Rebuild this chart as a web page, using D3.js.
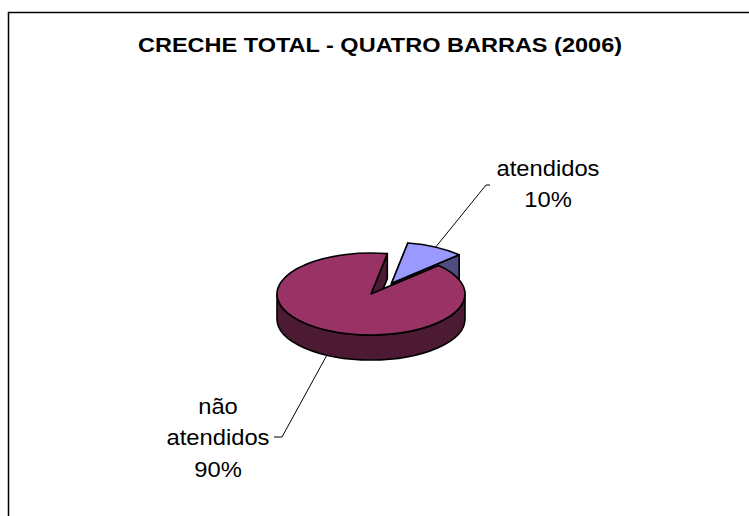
<!DOCTYPE html>
<html>
<head>
<meta charset="utf-8">
<script src="https://cdn.jsdelivr.net/npm/d3@7"></script>
<style>
  body { margin: 0; background: #fff; }
  svg text { font-family: "Liberation Sans", Arial, sans-serif; }
</style>
</head>
<body>
<div id="chart"></div>
<script>
const title = 'CRECHE TOTAL - QUATRO BARRAS (2006)';
const categories = ['atendidos', 'não atendidos'];
const values = [10, 90];
const pctLabels = ['10%', '90%'];
const labelLines = [['atendidos', '10%'], ['não', 'atendidos', '90%']];
const topColors = ['#9999ff', '#993366'];
const sideColors = ['#4d4d80', '#4d1a33'];

const w = 749, h = 516;
const cx = 371, cy = 294, rx = 94, ry = 41, depth = 25;
const explode = [0.34, 0];
const explodeTurn = 12; // degrees, the 3D view pushes the exploded slice a bit to the right
const rad = Math.PI / 180;

const svg = d3.select('#chart').append('svg')
    .attr('width', w)
    .attr('height', h);

// chart frame (right and bottom edges fall outside the picture)
svg.append('rect')
    .attr('x', 8.5).attr('y', 12.5)
    .attr('width', 800).attr('height', 600)
    .attr('fill', '#fff')
    .attr('stroke', '#000')
    .attr('stroke-width', 1.5);

svg.append('text')
    .attr('transform', 'translate(380,52) scale(1.12,1)')
    .attr('text-anchor', 'middle')
    .attr('font-size', 21)
    .attr('font-weight', 'bold')
    .text(title);

const pie = d3.pie().sort(null).startAngle(10 * rad).endAngle(370 * rad);
const arcs = pie(values);

// point on the tilted ellipse, angle clockwise from 12 o'clock
const P = (a, r, z, o) => [o[0] + r * rx * Math.sin(a), o[1] - r * ry * Math.cos(a) + z];

arcs.forEach((d, i) => {
    const mid = (d.startAngle + d.endAngle) / 2;
    const dir = mid + explodeTurn * rad;
    d.mid = mid;
    d.o = [cx + explode[i] * rx * Math.sin(dir), cy - explode[i] * ry * Math.cos(dir)];
});

const topPath = d => {
    const a = P(d.startAngle, 1, 0, d.o), b = P(d.endAngle, 1, 0, d.o);
    const large = d.endAngle - d.startAngle > Math.PI ? 1 : 0;
    return `M${d.o[0]},${d.o[1]}L${a[0]},${a[1]}A${rx},${ry} 0 ${large} 1 ${b[0]},${b[1]}Z`;
};
const radialPath = (d, a) => {
    const p = P(a, 1, 0, d.o), q = P(a, 1, depth, d.o);
    return `M${d.o[0]},${d.o[1]}L${p[0]},${p[1]}L${q[0]},${q[1]}L${d.o[0]},${d.o[1] + depth}Z`;
};
const wallPath = d => {
    // front half of the rim is visible: 90deg .. 270deg
    let s = Math.max(d.startAngle, 90 * rad), e = Math.min(d.endAngle, 270 * rad);
    if (e <= s) return null;
    const a = P(s, 1, 0, d.o), b = P(e, 1, 0, d.o), c = P(e, 1, depth, d.o), f = P(s, 1, depth, d.o);
    return `M${a[0]},${a[1]}A${rx},${ry} 0 0 1 ${b[0]},${b[1]}L${c[0]},${c[1]}A${rx},${ry} 0 0 0 ${f[0]},${f[1]}Z`;
};

const g = svg.append('g').attr('stroke', '#000').attr('stroke-width', 1.6).attr('stroke-linejoin', 'round');

arcs.forEach((d, i) => {
    const s = g.append('g').attr('class', 'slice');
    [d.startAngle, d.endAngle].forEach(a => {
        s.append('path').attr('d', radialPath(d, a)).attr('fill', sideColors[i]);
    });
    const wp = wallPath(d);
    if (wp) s.append('path').attr('d', wp).attr('fill', sideColors[i]);
    s.append('path').attr('d', topPath(d)).attr('fill', topColors[i]);
});

// data labels with leader lines
const labelPos = [[548, 176], [218, 414]];
const lineGap = 31.5;
const leaderEnd = [[[486, 185], [490, 185]], [[282, 437], [274, 437]]];

arcs.forEach((d, i) => {
    const start = i === 0 ? P(d.mid, 1, 0, d.o) : P(d.mid, 1, depth, d.o);
    svg.append('path')
        .attr('d', d3.line()([start, leaderEnd[i][0], leaderEnd[i][1]]))
        .attr('fill', 'none')
        .attr('stroke', '#000')
        .attr('stroke-width', 1);

    const t = svg.append('text')
        .attr('transform', `translate(${labelPos[i][0]},${labelPos[i][1]}) scale(1.08,1)`)
        .attr('text-anchor', 'middle')
        .attr('font-size', 22);
    labelLines[i].forEach((ln, k) => {
        t.append('tspan')
            .attr('x', 0)
            .attr('y', k * lineGap)
            .text(ln);
    });
});
</script>
</body>
</html>
